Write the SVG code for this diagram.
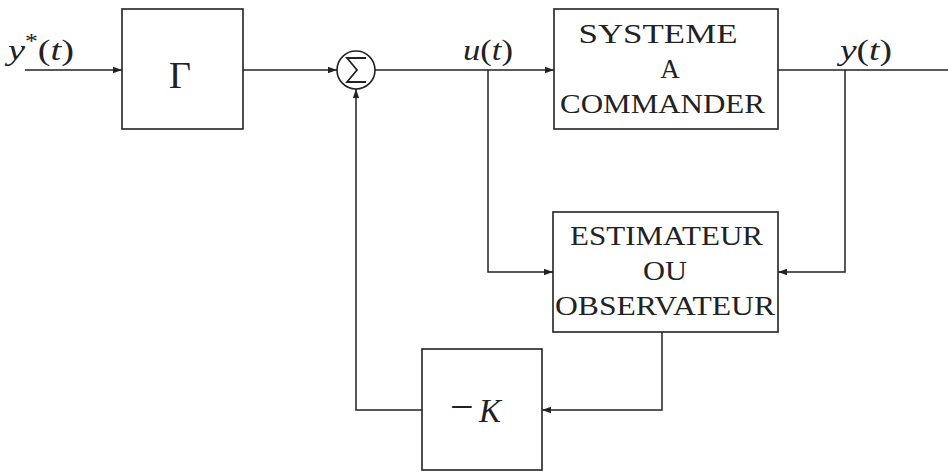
<svg xmlns="http://www.w3.org/2000/svg" width="948" height="472" viewBox="0 0 948 472">
<style>
.box{fill:none;stroke:#222;stroke-width:1.6}
.ln{fill:none;stroke:#222;stroke-width:1.5}
.t{font-family:"Liberation Serif","DejaVu Serif",serif;fill:#222;font-size:27px;text-anchor:middle}
.m{font-family:"Liberation Serif","DejaVu Serif",serif;fill:#222;font-size:30px}
.i{font-style:italic}
</style>
<defs>
<marker id="ar" viewBox="0 0 10 10" refX="10" refY="5" markerWidth="9" markerHeight="9" markerUnits="userSpaceOnUse" orient="auto">
<path d="M0,1.5 L10,5 L0,8.5 z" fill="#222"/>
</marker>
</defs>
<rect width="948" height="472" fill="#fff"/>
<g id="connectors">
<path class="ln" d="M25,70 H122" marker-end="url(#ar)"/>
<path class="ln" d="M243,70 H337" marker-end="url(#ar)"/>
<path class="ln" d="M375,70 H554" marker-end="url(#ar)"/>
<path class="ln" d="M778,70 H948"/>
<path class="ln" d="M488,70 V272 H553" marker-end="url(#ar)"/>
<path class="ln" d="M845,70 V272 H778" marker-end="url(#ar)"/>
<path class="ln" d="M662,332 V410 H542" marker-end="url(#ar)"/>
<path class="ln" d="M422,410 H356 V89" marker-end="url(#ar)"/>
</g>
<g id="labels">
<text class="m" x="8" y="60" textLength="66" lengthAdjust="spacingAndGlyphs"><tspan class="i">y</tspan><tspan style="font-size:20px" dy="-12">*</tspan><tspan dy="12">(</tspan><tspan class="i">t</tspan>)</text>
<text class="m" x="463" y="60" textLength="50" lengthAdjust="spacingAndGlyphs"><tspan class="i">u</tspan>(<tspan class="i">t</tspan>)</text>
<text class="m" x="840" y="60" textLength="52" lengthAdjust="spacingAndGlyphs"><tspan class="i">y</tspan>(<tspan class="i">t</tspan>)</text>
</g>
<g id="gamma">
<rect class="box" x="122" y="9" width="121" height="120"/>
<text class="t" x="180" y="88" style="font-size:38px">Γ</text>
</g>
<g id="sum">
<circle class="box" cx="356" cy="70" r="19"/>
<path d="M366,58 H347 L357,70 L347,82 H366" fill="none" stroke="#222" stroke-width="1.8"/>
</g>
<g id="systeme">
<rect class="box" x="554" y="9" width="224" height="120"/>
<text class="t" x="658" y="43" textLength="159" lengthAdjust="spacingAndGlyphs">SYSTEME</text>
<text class="t" x="670" y="78">A</text>
<text class="t" x="662.5" y="113" textLength="205" lengthAdjust="spacingAndGlyphs">COMMANDER</text>
</g>
<g id="estimateur">
<rect class="box" x="553" y="212" width="225" height="120"/>
<text class="t" x="666.5" y="245" textLength="193" lengthAdjust="spacingAndGlyphs">ESTIMATEUR</text>
<text class="t" x="665" y="280" textLength="44" lengthAdjust="spacingAndGlyphs">OU</text>
<text class="t" x="665" y="315" textLength="220" lengthAdjust="spacingAndGlyphs">OBSERVATEUR</text>
</g>
<g id="minusK">
<rect class="box" x="422" y="349" width="120" height="121"/>
<text class="m" x="450" y="422" style="font-size:33px"><tspan style="font-size:42px" dy="-1">−</tspan><tspan class="i" x="479" dy="1">K</tspan></text>
</g>
</svg>
